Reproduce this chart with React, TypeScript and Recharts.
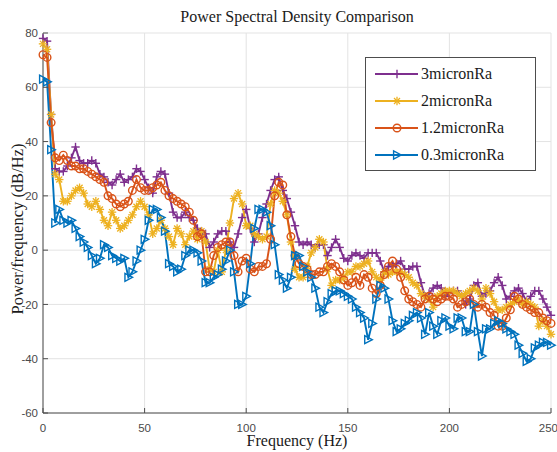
import React from 'react';
import { LineChart, Line, XAxis, YAxis, CartesianGrid, Legend } from 'recharts';

// frequency bins (Hz)
const freq = [
  0, 2, 4, 6, 8, 10, 12, 14, 16, 18,
  20, 22, 24, 26, 28, 30, 32, 34, 36, 38,
  40, 42, 44, 46, 48, 50, 52, 54, 56, 58,
  60, 62, 64, 66, 68, 70, 72, 74, 76, 78,
  80, 82, 84, 86, 88, 90, 92, 94, 96, 98,
  100, 102, 104, 106, 108, 110, 112, 114, 116, 118,
  120, 122, 124, 126, 128, 130, 132, 134, 136, 138,
  140, 142, 144, 146, 148, 150, 152, 154, 156, 158,
  160, 162, 164, 166, 168, 170, 172, 174, 176, 178,
  180, 182, 184, 186, 188, 190, 192, 194, 196, 198,
  200, 202, 204, 206, 208, 210, 212, 214, 216, 218,
  220, 222, 224, 226, 228, 230, 232, 234, 236, 238,
  240, 242, 244, 246, 248, 250,
];

const micron3 = [
  78, 77, 50, 30, 29, 29, 31, 34, 38, 33,
  32, 32, 33, 32, 28, 27, 25, 24, 26, 28,
  25, 26, 27, 30, 29, 26, 23, 21, 27, 29,
  28, 21, 14, 12, 12, 14, 12, 11, 8, 7,
  6, 1, 3, 6, 7, 7, 3, 1, 6, 12,
  15, 8, 3, 6, 12, 17, 22, 26, 27, 22,
  19, 14, 9, 3, 2, 3, 2, 1, 2, 2,
  -2, 1, 4, 1, -3, -4, -2, -1, -2, -3,
  -1, -1, -1, -4, -8, -6, -6, -5, -4, -7,
  -7, -6, -6, -12, -17, -16, -14, -13, -14, -17,
  -16, -15, -15, -17, -20, -18, -13, -12, -17, -16,
  -15, -12, -10, -13, -18, -17, -15, -14, -16, -19,
  -17, -15, -15, -18, -21, -24,
];

const micron2 = [
  76, 74, 50, 28, 26, 18, 18, 20, 22, 23,
  21, 17, 16, 18, 15, 11, 9, 14, 11, 8,
  9, 11, 13, 16, 18, 16, 13, 6, 8, 11,
  8, 5, 2, 8, 6, 2, 5, 7, 4, 7,
  3, -7, -8, 0, -8, 0, 10, 19, 21, 17,
  9, 9, 6, 5, 4, 5, 17, 22, 21, 18,
  13, 3, -7, -10, -10, -6, -1, 1, 4, 3,
  -7, -13, -11, -11, -10, -8, -8, -6, -6, -5,
  -4, -8, -10, -11, -8, -9, -8, -8, -8, -9,
  -10, -12, -13, -16, -17, -18, -21, -17, -16, -15,
  -15, -15, -16, -17, -16, -15, -14, -15, -18, -14,
  -16, -19, -22, -22, -21, -20, -19, -18, -20, -19,
  -20, -21, -28, -26, -28, -31,
];

const micron12 = [
  72, 71, 47, 34, 33, 35, 33, 31, 31, 30,
  30, 29, 28, 27, 26, 25, 20, 19, 17, 16,
  17, 18, 22, 26, 23, 22, 22, 23, 24, 25,
  22, 20, 19, 18, 17, 16, 14, 11, 5, 6,
  -8, -8, -2, 1, 2, 3, 3, -2, -8, -4,
  -3, -7, -8, -6, -6, -5, 4, 20, 25, 24,
  13, 5, -2, -5, -6, -7, -9, -9, -8, -8,
  -6, -5, -6, -8, -11, -13, -12, -10, -13, -9,
  -10, -14, -16, -13, -9, -6, -4, -7, -10, -15,
  -18, -19, -20, -21, -18, -17, -18, -19, -18, -17,
  -17, -18, -21, -20, -19, -18, -20, -21, -20, -21,
  -23, -24, -28, -28, -25, -22, -17, -18, -20, -21,
  -22, -23, -23, -25, -26, -27,
];

const micron03 = [
  63, 62, 37, 10, 15, 11, 10, 11, 8, 5,
  3, 1, -2, -5, -3, 2, 1, -2, -3, -4,
  -3, -10, -8, -4, 0, 4, 11, 15, 15, 12,
  7, -5, -6, -8, -7, -2, 0, 0, -1, -4,
  -12, -12, -10, -9, -7, -4, 0, -8, -20, -20,
  -17, -5, 8, 15, 15, 14, 9, 2, -9, -11,
  -14, -10, -2, -2, -6, -8, -10, -14, -21, -23,
  -19, -16, -15, -15, -16, -17, -18, -21, -23, -25,
  -33, -27, -18, -13, -14, -18, -26, -30, -29, -27,
  -26, -24, -23, -25, -31, -23, -28, -31, -26, -25,
  -28, -29, -25, -25, -30, -30, -20, -30, -39, -29,
  -29, -27, -26, -27, -29, -30, -31, -35, -38, -41,
  -40, -36, -35, -34, -34, -35,
];

const xTicks = [0, 50, 100, 150, 200, 250];
const yTicks = [-60, -40, -20, 0, 20, 40, 60, 80];

type MarkerKind = 'plus' | 'star' | 'circle' | 'tri';

const series: { key: string; name: string; color: string; marker: MarkerKind }[] = [
  { key: 'm3', name: '3micronRa', color: '#7E2F8E', marker: 'plus' },
  { key: 'm2', name: '2micronRa', color: '#EDB120', marker: 'star' },
  { key: 'm12', name: '1.2micronRa', color: '#D95319', marker: 'circle' },
  { key: 'm03', name: '0.3micronRa', color: '#0072BD', marker: 'tri' },
];

const data = freq.map((f, i) => ({
  f,
  m3: micron3[i],
  m2: micron2[i],
  m12: micron12[i],
  m03: micron03[i],
}));

const serif = "'Liberation Serif', 'Times New Roman', Times, 'DejaVu Serif', serif";
const sans = "'Liberation Sans', Arial, sans-serif";
const axisColor = '#4d4d4d';
const textColor = '#1a1a1a';

function Marker({ kind, cx, cy, color }: { kind: MarkerKind; cx: number; cy: number; color: string }) {
  const s = 4.2;
  const d = 3;
  if (kind === 'plus') {
    return (
      <g stroke={color} strokeWidth={1.4}>
        <line x1={cx - s} y1={cy} x2={cx + s} y2={cy} />
        <line x1={cx} y1={cy - s} x2={cx} y2={cy + s} />
      </g>
    );
  }
  if (kind === 'star') {
    return (
      <g stroke={color} strokeWidth={1.3}>
        <line x1={cx - s} y1={cy} x2={cx + s} y2={cy} />
        <line x1={cx} y1={cy - s} x2={cx} y2={cy + s} />
        <line x1={cx - d} y1={cy - d} x2={cx + d} y2={cy + d} />
        <line x1={cx - d} y1={cy + d} x2={cx + d} y2={cy - d} />
      </g>
    );
  }
  if (kind === 'circle') {
    return <circle cx={cx} cy={cy} r={3.8} fill="none" stroke={color} strokeWidth={1.4} />;
  }
  return (
    <polygon
      points={`${cx - 3.4},${cy - 4} ${cx - 3.4},${cy + 4} ${cx + 4.2},${cy}`}
      fill="none"
      stroke={color}
      strokeWidth={1.4}
    />
  );
}

function LegendBox() {
  return (
    <svg width={171} height={114} style={{ display: 'block' }}>
      <rect x={0.5} y={0.5} width={170} height={113} fill="#fff" stroke={axisColor} strokeWidth={1} />
      {series.map((s, i) => {
        const y = 17 + i * 27;
        return (
          <g key={s.key}>
            <line x1={10} y1={y} x2={53} y2={y} stroke={s.color} strokeWidth={1.8} />
            <Marker kind={s.marker} cx={32} cy={y} color={s.color} />
            <text x={56} y={y + 5} style={{ fontFamily: serif, fontSize: 16, fill: textColor }}>
              {s.name}
            </text>
          </g>
        );
      })}
    </svg>
  );
}

export default function App() {
  return (
    <div style={{ position: 'absolute', left: 0, top: 0, width: 557, height: 452, background: '#fff' }}>
      <LineChart width={557} height={452} data={data} margin={{ top: 33, right: 6, left: 0, bottom: 0 }}>
        <CartesianGrid stroke="#e3e3e3" strokeWidth={1} />
        <XAxis
          dataKey="f"
          type="number"
          domain={[0, 250]}
          ticks={xTicks}
          height={39}
          stroke={axisColor}
          tickSize={-5}
          tickMargin={16}
          tick={{ fontSize: 11.5, fontFamily: sans, fill: '#4a4a4a' }}
        />
        <XAxis
          xAxisId="top"
          orientation="top"
          dataKey="f"
          type="number"
          domain={[0, 250]}
          ticks={xTicks}
          height={0}
          mirror
          tick={false}
          tickSize={5}
          stroke={axisColor}
        />
        <YAxis
          type="number"
          domain={[-60, 80]}
          ticks={yTicks}
          width={43}
          stroke={axisColor}
          tickSize={-5}
          tickMargin={10}
          allowDataOverflow
          tick={{ fontSize: 11.5, fontFamily: sans, fill: '#4a4a4a' }}
        />
        <YAxis
          yAxisId="right"
          orientation="right"
          type="number"
          domain={[-60, 80]}
          ticks={yTicks}
          width={0}
          mirror
          tick={false}
          tickSize={5}
          stroke={axisColor}
        />
        {series.map((s) => (
          <Line
            key={s.key}
            dataKey={s.key}
            name={s.name}
            stroke={s.color}
            strokeWidth={1.9}
            type="linear"
            isAnimationActive={false}
            dot={(p: any) => (
              <Marker key={`${s.key}-${p.index}`} kind={s.marker} cx={p.cx} cy={p.cy} color={s.color} />
            )}
            activeDot={false}
          />
        ))}
        <Legend
          layout="vertical"
          align="center"
          verticalAlign="middle"
          content={() => <LegendBox />}
          wrapperStyle={{ left: 365, top: 57, width: 171, height: 114 }}
        />
        <text x={297} y={22} textAnchor="middle" style={{ fontFamily: serif, fontSize: 16, fill: textColor }}>
          Power Spectral Density Comparison
        </text>
        <text x={297} y={446} textAnchor="middle" style={{ fontFamily: serif, fontSize: 16, fill: textColor }}>
          Frequency (Hz)
        </text>
        <text
          x={0}
          y={0}
          textAnchor="middle"
          transform="translate(23, 229) rotate(-90)"
          style={{ fontFamily: serif, fontSize: 16.5, fill: textColor }}
        >
          Power/frequency (dB/Hz)
        </text>
      </LineChart>
    </div>
  );
}
